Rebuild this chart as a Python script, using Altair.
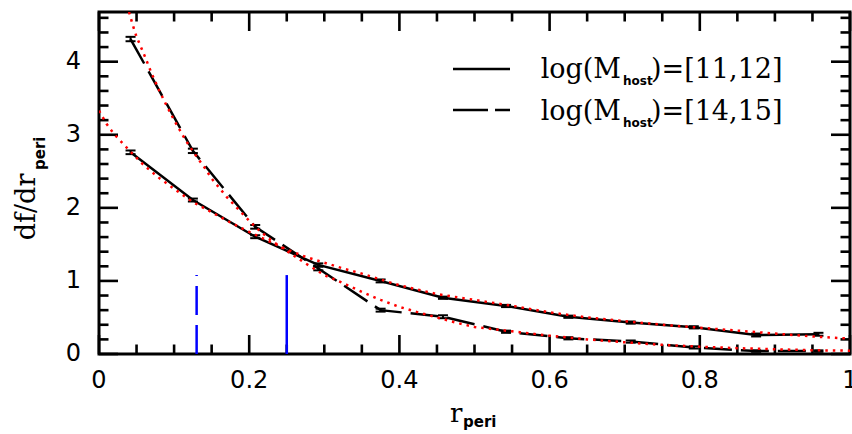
import altair as alt
import pandas as pd

# ---------------- data ----------------
r_bins = [0.042, 0.125, 0.208, 0.292, 0.375, 0.458, 0.542, 0.625, 0.708, 0.792, 0.875, 0.958]

# log(M_host) = [11,12]  (solid)
low_y = [2.76, 2.107, 1.605, 1.22, 1.00, 0.77, 0.657, 0.51, 0.43, 0.365, 0.26, 0.27]
low_err = [0.025, 0.02, 0.02, 0.02, 0.02, 0.015, 0.015, 0.015, 0.015, 0.015, 0.02, 0.02]

# log(M_host) = [14,15]  (dashed)
high_y = [4.31, 2.78, 1.74, 1.17, 0.60, 0.51, 0.305, 0.215, 0.17, 0.09, 0.04, 0.04]
high_err = [0.03, 0.03, 0.025, 0.025, 0.02, 0.02, 0.015, 0.015, 0.015, 0.015, 0.01, 0.01]

# red dotted fit curves
fit_low_x = [0, 0.01, 0.02, 0.03, 0.04, 0.06, 0.08, 0.1, 0.125, 0.15, 0.175, 0.2, 0.225, 0.25,
             0.275, 0.3, 0.325, 0.35, 0.375, 0.4, 0.45, 0.5, 0.55, 0.6, 0.65, 0.7, 0.75, 0.8,
             0.85, 0.9, 0.95, 1.0]
fit_low_y = [3.33, 3.15, 3.01, 2.90, 2.79, 2.58, 2.41, 2.26, 2.08, 1.94, 1.80, 1.67, 1.55, 1.43,
             1.33, 1.25, 1.17, 1.10, 1.02, 0.94, 0.82, 0.74, 0.66, 0.57, 0.50, 0.45, 0.40, 0.36,
             0.32, 0.28, 0.24, 0.21]
fit_high_x = [0.040, 0.045, 0.05, 0.055, 0.06, 0.07, 0.08, 0.09, 0.1, 0.115, 0.13, 0.14, 0.15,
              0.17, 0.19, 0.21, 0.23, 0.25, 0.275, 0.3, 0.325, 0.35, 0.375, 0.4, 0.425, 0.45,
              0.475, 0.5, 0.55, 0.6, 0.65, 0.7, 0.75, 0.8, 0.85, 0.9, 0.95, 1.0]
fit_high_y = [4.68, 4.50, 4.34, 4.22, 4.10, 3.84, 3.61, 3.40, 3.20, 2.93, 2.70, 2.56, 2.40,
              2.15, 1.93, 1.72, 1.55, 1.41, 1.24, 1.08, 0.97, 0.85, 0.74, 0.645, 0.57, 0.50,
              0.43, 0.37, 0.31, 0.25, 0.20, 0.16, 0.125, 0.10, 0.08, 0.065, 0.052, 0.045]

# blue vertical markers
vline_x = [0.13, 0.25]
vline_top = [1.08, 1.08]

# axis ticks
x_major = [0, 0.2, 0.4, 0.6, 0.8, 1.0]
x_minor = [0.05, 0.1, 0.15, 0.25, 0.3, 0.35, 0.45, 0.5, 0.55, 0.65, 0.7, 0.75, 0.85, 0.9, 0.95]
y_major = [0, 1, 2, 3, 4]
y_minor = [0.2, 0.4, 0.6, 0.8, 1.2, 1.4, 1.6, 1.8, 2.2, 2.4, 2.6, 2.8, 3.2, 3.4, 3.6, 3.8,
           4.2, 4.4, 4.6]
x_tick_labels = ["0", "0.2", "0.4", "0.6", "0.8", "1"]
y_tick_labels = ["0", "1", "2", "3", "4"]

legend_labels = ["[11,12]", "[14,15]"]

# ---------------- chart ----------------
W, H = 751, 342
XMAX, YMAX = 1.0, 4.68
xs = alt.Scale(domain=[0, XMAX], nice=False, zero=False)
ys = alt.Scale(domain=[0, YMAX], nice=False, zero=False)
MAJ, MIN, THK = 19.0, 9.5, 2.6


def X(f):
    return alt.X(f, type="quantitative", scale=xs, axis=None)


def Y(f):
    return alt.Y(f, type="quantitative", scale=ys, axis=None)


low = pd.DataFrame({"x": r_bins, "y": low_y,
                    "lo": [a - b for a, b in zip(low_y, low_err)],
                    "hi": [a + b for a, b in zip(low_y, low_err)]})
high = pd.DataFrame({"x": r_bins, "y": high_y,
                     "lo": [a - b for a, b in zip(high_y, high_err)],
                     "hi": [a + b for a, b in zip(high_y, high_err)]})
fl = pd.DataFrame({"x": fit_low_x, "y": fit_low_y})
fh = pd.DataFrame({"x": fit_high_x, "y": fit_high_y})
vl = pd.DataFrame({"x": vline_x, "y0": [0, 0], "y1": vline_top})

# tick rectangles (sizes in pixels converted to data units), all four sides in one table
hx = THK / 2 / W * XMAX
hy = THK / 2 / H * YMAX
tk = {"x1": [], "x2": [], "y1": [], "y2": []}


def add(x1, x2, y1, y2):
    tk["x1"].append(x1)
    tk["x2"].append(x2)
    tk["y1"].append(y1)
    tk["y2"].append(y2)


for vals, ln in ((x_major, MAJ), (x_minor, MIN)):
    dy = ln / H * YMAX
    for v in vals:
        add(v - hx, v + hx, 0.0, dy)
        add(v - hx, v + hx, YMAX - dy, YMAX)
for vals, ln in ((y_major, MAJ), (y_minor, MIN)):
    dx = ln / W * XMAX
    for v in vals:
        add(0.0, dx, v - hy, v + hy)
        add(XMAX - dx, XMAX, v - hy, v + hy)
ticks = pd.DataFrame(tk)

layers = []

# axis ticks as filled rectangles
layers.append(alt.Chart(ticks).mark_rect(color="black", opacity=1)
              .encode(x=X("x1"), x2="x2", y=Y("y1"), y2="y2"))

# blue markers
layers.append(alt.Chart(vl.iloc[[0]]).mark_rule(color="#0000ff", strokeWidth=2.5, strokeDash=[29, 10])
              .encode(x=X("x"), y=Y("y0"), y2="y1"))
layers.append(alt.Chart(vl.iloc[[1]]).mark_rule(color="#0000ff", strokeWidth=2.5)
              .encode(x=X("x"), y=Y("y0"), y2="y1"))

# data lines
layers.append(alt.Chart(low).mark_line(color="black", strokeWidth=2.5)
              .encode(x=X("x"), y=Y("y")))
layers.append(alt.Chart(high).mark_line(color="black", strokeWidth=2.5, strokeDash=[28, 9])
              .encode(x=X("x"), y=Y("y")))

# error bars
for d in (low, high):
    layers.append(alt.Chart(d).mark_rule(color="black", strokeWidth=2)
                  .encode(x=X("x"), y=Y("lo"), y2="hi"))
    for f in ("lo", "hi"):
        layers.append(alt.Chart(d).mark_tick(color="black", orient="horizontal", size=10,
                                             thickness=2, opacity=1)
                      .encode(x=X("x"), y=Y(f)))

# red dotted fits
for d in (fl, fh):
    layers.append(alt.Chart(d).mark_line(color="#ff0000", strokeWidth=2.5, strokeDash=[2.5, 5],
                                         clip=True)
                  .encode(x=X("x"), y=Y("y")))

# legend
one = pd.DataFrame({"a": [0]})
layers.append(alt.Chart(one).mark_rule(color="black", strokeWidth=2.5)
              .encode(x=alt.value(354), x2=alt.value(411), y=alt.value(57)))
layers.append(alt.Chart(one).mark_rule(color="black", strokeWidth=2.5, strokeDash=[35, 7])
              .encode(x=alt.value(354), x2=alt.value(411), y=alt.value(98)))


def txt(s, x, y, size, font="DejaVu Serif", weight="normal", align="left", angle=0):
    return (alt.Chart(pd.DataFrame({"t": [s]}))
            .mark_text(font=font, fontSize=size, fontWeight=weight, align=align,
                       baseline="alphabetic", angle=angle, color="black")
            .encode(x=alt.value(x), y=alt.value(y), text="t:N"))


# tick labels as text marks placed by the scales
xl = pd.DataFrame({"v": x_major, "t": x_tick_labels})
yl = pd.DataFrame({"v": y_major, "t": y_tick_labels})
layers.append(alt.Chart(xl).mark_text(font="DejaVu Sans", fontSize=24, baseline="middle",
                                      align="center", color="black")
              .encode(x=X("v"), y=alt.value(H + 27), text="t:N"))
layers.append(alt.Chart(yl).mark_text(font="DejaVu Sans", fontSize=24, baseline="middle",
                                      align="right", color="black")
              .encode(y=Y("v"), x=alt.value(-18), text="t:N"))

for lab, yb in zip(legend_labels, [66, 108]):
    layers.append(txt("log(M", 522, yb, 27, align="right"))
    layers.append(txt("host", 524, yb + 7, 12, font="DejaVu Sans", weight="bold"))
    layers.append(txt(")=" + lab, 552, yb, 27))

# axis titles
layers.append(txt("r", 351, 410, 26))
layers.append(txt("peri", 364, 415, 15, font="DejaVu Sans", weight="bold"))
layers.append(txt("df/dr", -64, 195, 27, align="center", angle=270))
layers.append(txt("peri", -54, 158, 15, font="DejaVu Sans", weight="bold", angle=270))

chart = (
    alt.layer(*layers)
    .properties(width=W, height=H, autosize=alt.AutoSizeParams(type="none"),
                padding={"left": 99, "top": 12, "right": 2, "bottom": 80})
    .configure_view(stroke="black", strokeWidth=3)
)

chart.save("out.html", embed_options={"renderer": "svg", "actions": False})
